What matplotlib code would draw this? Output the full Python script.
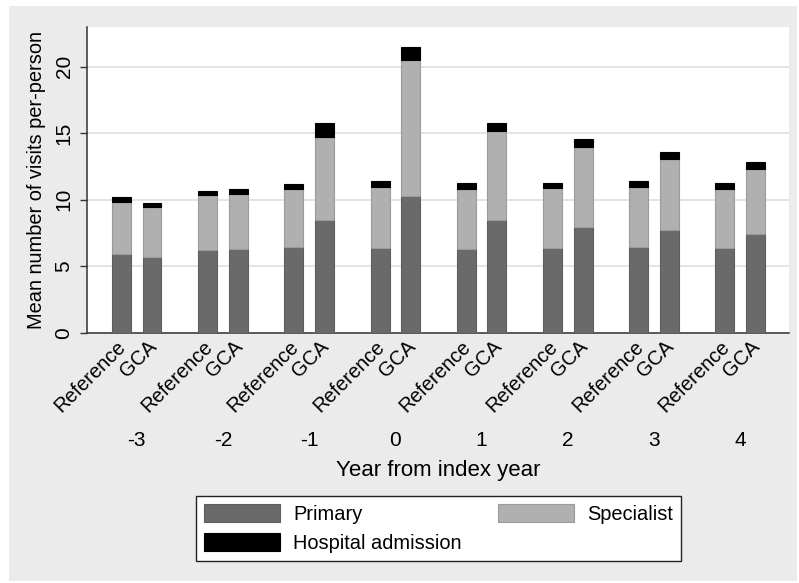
import numpy as np
import matplotlib.pyplot as plt
import matplotlib.transforms as mtransforms
from matplotlib.patches import Rectangle

plt.rcParams['font.family'] = ['Liberation Sans', 'DejaVu Sans']
plt.rcParams['font.size'] = 14.4

years = ['-3', '-2', '-1', '0', '1', '2', '3', '4']
groups = ['Reference', 'GCA']

# mean visits per person for each year from index year
ref_primary = [5.92, 6.22, 6.42, 6.39, 6.32, 6.35, 6.42, 6.35]
ref_specialist = [3.93, 4.11, 4.38, 4.56, 4.48, 4.53, 4.51, 4.45]
ref_hospital = [0.33, 0.35, 0.40, 0.48, 0.48, 0.42, 0.47, 0.48]

gca_primary = [5.67, 6.32, 8.47, 10.28, 8.45, 7.92, 7.70, 7.42]
gca_specialist = [3.76, 4.13, 6.27, 10.22, 6.75, 6.08, 5.38, 4.86]
gca_hospital = [0.30, 0.35, 1.00, 0.96, 0.60, 0.60, 0.50, 0.53]

c_primary = '#6a6a6a'
c_specialist = '#b0b0b0'
c_hospital = '#000000'

fig = plt.figure(figsize=(7.99, 5.83), dpi=100)
fig.patch.set_facecolor('white')
fig.patches.append(Rectangle((9 / 799, 2 / 583), 788 / 799, 575 / 583,
                             transform=fig.transFigure, facecolor='#ebebeb',
                             edgecolor='none', zorder=-10))

ax = fig.add_axes([87 / 799, 1 - 332.7 / 583, 702 / 799, 305.7 / 583])
ax.set_facecolor('white')

x = np.arange(len(years))
off = 0.177
w = 0.22


def stack(xpos, prim, spec, hosp):
    prim = np.array(prim)
    spec = np.array(spec)
    hosp = np.array(hosp)
    b1 = ax.bar(xpos, prim, w, color=c_primary, edgecolor='#5e5e5e', linewidth=0.8, zorder=3)
    b2 = ax.bar(xpos, spec, w, bottom=prim, color=c_specialist, edgecolor='#9a9a9a',
                linewidth=0.8, zorder=3)
    b3 = ax.bar(xpos, hosp, w, bottom=prim + spec, color=c_hospital, edgecolor='#000000',
                linewidth=0.8, zorder=3)
    return b1, b2, b3


p, s, h = stack(x - off, ref_primary, ref_specialist, ref_hospital)
stack(x + off, gca_primary, gca_specialist, gca_hospital)

ax.set_xlim(-0.577, 7.566)
ax.set_ylim(0, 23)
ax.set_yticks([0, 5, 10, 15, 20])
ax.yaxis.grid(True, color='#e2e2e2', linewidth=1.3, zorder=0)
ax.set_axisbelow(True)
ax.tick_params(axis='y', length=5, width=1, color='#333333', pad=4.7, labelrotation=90,
               labelsize=15)
for lab in ax.get_yticklabels():
    lab.set_va('center')

ticks = np.concatenate([x - off, x + off])
labels = [groups[0]] * len(x) + [groups[1]] * len(x)
ax.set_xticks(ticks)
ax.set_xticklabels(labels, rotation=45, ha='right', va='top', rotation_mode='anchor')
ax.tick_params(axis='x', length=0, pad=6)
shift = mtransforms.ScaledTranslation(-0.05, 0.04, fig.dpi_scale_trans)
for lab in ax.get_xticklabels():
    lab.set_transform(lab.get_transform() + shift)

for sp in ['top', 'right']:
    ax.spines[sp].set_visible(False)
for sp in ['left', 'bottom']:
    ax.spines[sp].set_color('#333333')
    ax.spines[sp].set_linewidth(1.1)

# year labels below each pair of bars
for xi, yr in zip(x, years):
    ax.text(xi, -0.354, yr, transform=ax.get_xaxis_transform(), ha='center', va='center',
            fontsize=15)
ax.text(0.5, -0.45, 'Year from index year', transform=ax.transAxes, ha='center',
        va='center', fontsize=16)

ax.set_ylabel('Mean number of visits per-person')
ax.yaxis.set_label_coords(-0.0577, 0.5)

leg = fig.legend([p, h, s], ['Primary', 'Hospital admission', 'Specialist'], ncol=2,
                 loc='center', mode='expand', borderaxespad=0,
                 bbox_to_anchor=(196 / 799, 1 - 561 / 583, 485 / 799, 65 / 583),
                 handlelength=3.8, handleheight=1.0, handletextpad=0.65,
                 labelspacing=0.45, borderpad=0.4, fancybox=False, framealpha=1,
                 edgecolor='#222222')
leg.get_frame().set_linewidth(1.0)

fig.savefig('out.png', dpi=100)
